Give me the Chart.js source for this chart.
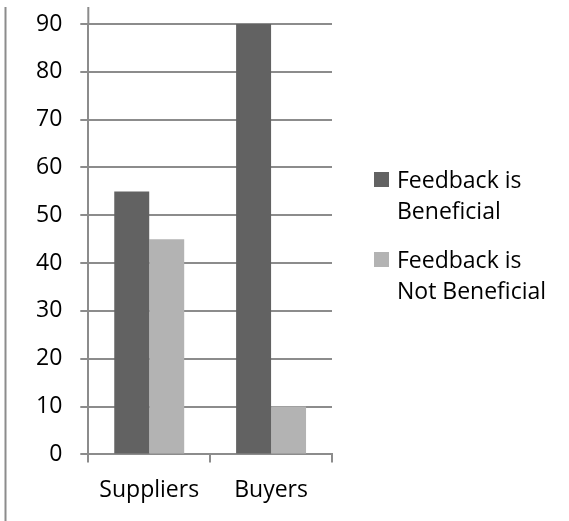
<!DOCTYPE html>
<html>
<head>
<meta charset="utf-8">
<script src="https://cdn.jsdelivr.net/npm/chart.js@4.4.1/dist/chart.umd.min.js"></script>
<style>
  html, body { margin: 0; padding: 0; background: #fff; }
  #wrap { position: relative; width: 569px; height: 521px; }
  #legend { position: absolute; left: 374px; top: 164px; font-family: "Open Sans", sans-serif; font-size: 23px; line-height: 31px; color: #000; }
  .item { position: relative; padding-left: 23px; height: 62px; margin-bottom: 18px; white-space: nowrap; }
  .swatch { position: absolute; left: 0; top: 8px; width: 15px; height: 15px; }
</style>
</head>
<body>
<div id="wrap">
  <canvas id="chart" width="569" height="521"></canvas>
  <div id="legend"></div>
</div>
<script>
const categories = ['Suppliers', 'Buyers'];
const seriesNames = [['Feedback is', 'Beneficial'], ['Feedback is', 'Not Beneficial']];
const beneficial = [55, 90];
const notBeneficial = [45, 10];
const yTicks = [0, 10, 20, 30, 40, 50, 60, 70, 80, 90];

const colors = ['#626262', '#b3b3b3'];
const lineGray = '#8c8c8c';

// thin frame line on the left and the y axis running up past the top gridline
const framePlugin = {
  id: 'frame',
  afterDraw(chart) {
    const { ctx, chartArea } = chart;
    ctx.save();
    ctx.strokeStyle = lineGray;
    ctx.lineWidth = 2;
    ctx.beginPath();
    ctx.moveTo(5.5, 7);
    ctx.lineTo(5.5, chart.height);
    ctx.moveTo(chartArea.left, 7);
    ctx.lineTo(chartArea.left, chartArea.top);
    ctx.stroke();
    ctx.restore();
  },
};

const htmlLegend = {
  id: 'htmlLegend',
  afterUpdate(chart) {
    const box = document.getElementById('legend');
    box.innerHTML = chart.data.datasets.map((ds) => (
      `<div class="item"><span class="swatch" style="background:${ds.backgroundColor}"></span>${ds.label.join('<br>')}</div>`
    )).join('');
  },
};

const font = { family: '"Open Sans", sans-serif', size: 23 };

new Chart(document.getElementById('chart').getContext('2d'), {
  type: 'bar',
  data: {
    labels: categories,
    datasets: [
      { label: seriesNames[0], data: beneficial, backgroundColor: colors[0] },
      { label: seriesNames[1], data: notBeneficial, backgroundColor: colors[1] },
    ],
  },
  options: {
    responsive: false,
    animation: false,
    devicePixelRatio: 1,
    layout: { padding: { left: 18, top: 24, right: 237, bottom: 3 } },
    datasets: { bar: { barPercentage: 1, categoryPercentage: 0.574 } },
    plugins: { legend: { display: false }, tooltip: { enabled: false } },
    scales: {
      x: {
        grid: { offset: true, drawOnChartArea: false, drawTicks: true, tickLength: 8, color: lineGray, lineWidth: 2 },
        border: { display: true, color: lineGray, width: 2 },
        ticks: { font, color: '#000', padding: 14 },
      },
      y: {
        min: 0,
        max: 90,
        afterBuildTicks: (axis) => { axis.ticks = yTicks.map((value) => ({ value })); },
        // the label gap shouldn't push the plot down from the top
        afterFit: (axis) => { axis.paddingTop = 0; axis.paddingBottom = 0; },
        grid: { color: lineGray, lineWidth: 2, tickLength: 8 },
        border: { display: true, color: lineGray, width: 2 },
        ticks: { font, color: '#000', padding: 18 },
      },
    },
  },
  plugins: [framePlugin, htmlLegend],
});
</script>
</body>
</html>
